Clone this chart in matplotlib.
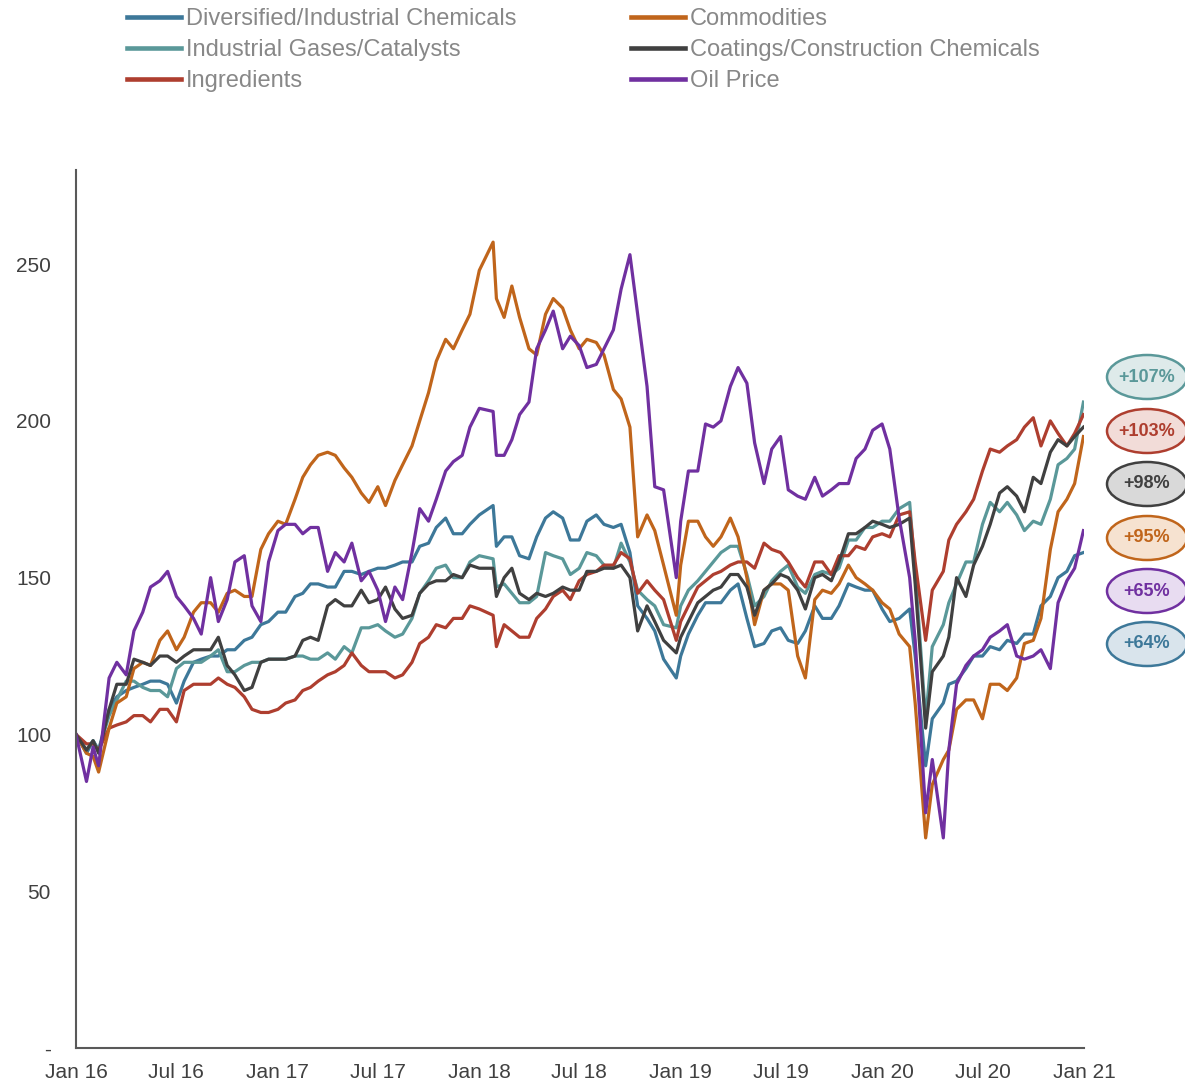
import pandas as pd
import matplotlib
matplotlib.use('Agg')
import matplotlib.pyplot as plt
import matplotlib.dates as mdates
from matplotlib.patches import Ellipse
from matplotlib.ticker import FuncFormatter

plt.rcParams['font.family'] = ['Liberation Sans', 'DejaVu Sans']

# daty: 1. i ok. 15. dzień każdego miesiąca (kilka przesuniętych na ekstrema)
dates = [
    '2016-01-01', '2016-01-20', '2016-02-01', '2016-02-11', '2016-03-01', '2016-03-15', '2016-04-01', '2016-04-15',
    '2016-05-01', '2016-05-15', '2016-06-01', '2016-06-15', '2016-07-01', '2016-07-15', '2016-08-01', '2016-08-15',
    '2016-09-01', '2016-09-15', '2016-10-01', '2016-10-15', '2016-11-01', '2016-11-15', '2016-12-01', '2016-12-15',
    '2017-01-01', '2017-01-15', '2017-02-01', '2017-02-15', '2017-03-01', '2017-03-15', '2017-04-01', '2017-04-15',
    '2017-05-01', '2017-05-15', '2017-06-01', '2017-06-15', '2017-07-01', '2017-07-15', '2017-08-01', '2017-08-15',
    '2017-09-01', '2017-09-15', '2017-10-01', '2017-10-15', '2017-11-01', '2017-11-15', '2017-12-01', '2017-12-15',
    '2018-01-01', '2018-01-26', '2018-02-01', '2018-02-15', '2018-03-01', '2018-03-15', '2018-04-01', '2018-04-15',
    '2018-05-01', '2018-05-15', '2018-06-01', '2018-06-15', '2018-07-01', '2018-07-15', '2018-08-01', '2018-08-15',
    '2018-09-01', '2018-09-15', '2018-10-01', '2018-10-15', '2018-11-01', '2018-11-15', '2018-12-01', '2018-12-24',
    '2019-01-01', '2019-01-15', '2019-02-01', '2019-02-15', '2019-03-01', '2019-03-15', '2019-04-01', '2019-04-15',
    '2019-05-01', '2019-05-15', '2019-06-01', '2019-06-15', '2019-07-01', '2019-07-15', '2019-08-01', '2019-08-15',
    '2019-09-01', '2019-09-15', '2019-10-01', '2019-10-15', '2019-11-01', '2019-11-15', '2019-12-01', '2019-12-15',
    '2020-01-01', '2020-01-15', '2020-02-01', '2020-02-20', '2020-03-01', '2020-03-20', '2020-04-01', '2020-04-21',
    '2020-05-01', '2020-05-15', '2020-06-01', '2020-06-15', '2020-07-01', '2020-07-15', '2020-08-01', '2020-08-15',
    '2020-09-01', '2020-09-15', '2020-10-01', '2020-10-15', '2020-11-01', '2020-11-15', '2020-12-01', '2020-12-15',
    '2020-12-31',
]

diversified = [
    100, 94, 98, 95, 108, 112, 114, 115, 116, 117, 117, 116, 110, 117, 123, 124, 125, 125, 127, 127, 130, 131, 135, 136,
    139, 139, 144, 145, 148, 148, 147, 147, 152, 152, 151, 152, 153, 153, 154, 155, 155, 160, 161, 166, 169, 164, 164, 167,
    170, 173, 160, 163, 163, 157, 156, 163, 169, 171, 169, 162, 162, 168, 170, 167, 166, 167, 158, 141, 137, 133, 124, 118,
    125, 132, 138, 142, 142, 142, 146, 148, 137, 128, 129, 133, 134, 130, 129, 133, 141, 137, 137, 141, 148, 147, 146, 146,
    140, 136, 137, 140, 125, 90, 105, 110, 116, 117, 121, 125, 125, 128, 127, 130, 129, 132, 132, 141, 144, 150, 152, 157,
    158,
]
gases = [
    100, 95, 98, 95, 106, 111, 117, 117, 115, 114, 114, 112, 121, 123, 123, 123, 125, 127, 120, 120, 122, 123, 123, 124,
    124, 124, 125, 125, 124, 124, 126, 124, 128, 126, 134, 134, 135, 133, 131, 132, 137, 145, 149, 153, 154, 150, 150, 155,
    157, 156, 147, 148, 145, 142, 142, 144, 158, 157, 156, 151, 153, 158, 157, 154, 153, 161, 155, 146, 143, 141, 135, 134,
    141, 146, 149, 152, 155, 158, 160, 160, 151, 141, 144, 149, 152, 154, 147, 145, 151, 152, 151, 153, 162, 162, 166, 166,
    168, 168, 172, 174, 152, 105, 128, 135, 142, 148, 155, 155, 167, 174, 171, 174, 170, 165, 168, 167, 175, 186, 188, 191,
    206,
]
ingredients = [
    100, 97, 97, 95, 102, 103, 104, 106, 106, 104, 108, 108, 104, 114, 116, 116, 116, 118, 116, 115, 112, 108, 107, 107,
    108, 110, 111, 114, 115, 117, 119, 120, 122, 126, 122, 120, 120, 120, 118, 119, 123, 129, 131, 135, 134, 137, 137, 141,
    140, 138, 128, 135, 133, 131, 131, 137, 140, 144, 146, 143, 149, 151, 152, 154, 154, 158, 156, 145, 149, 146, 143, 130,
    136, 141, 147, 149, 151, 152, 154, 155, 155, 153, 161, 159, 158, 155, 150, 147, 155, 155, 151, 157, 157, 160, 159, 163,
    164, 163, 170, 171, 155, 130, 146, 152, 162, 167, 171, 175, 184, 191, 190, 192, 194, 198, 201, 192, 200, 196, 192, 196,
    202,
]
commodities = [
    100, 94, 93, 88, 102, 110, 112, 121, 123, 122, 130, 133, 127, 131, 139, 142, 142, 139, 145, 146, 144, 144, 159, 164,
    168, 167, 175, 182, 186, 189, 190, 189, 185, 182, 177, 174, 179, 173, 181, 186, 192, 200, 209, 219, 226, 223, 229, 234,
    248, 257, 239, 233, 243, 233, 223, 221, 234, 239, 236, 229, 223, 226, 225, 221, 210, 207, 198, 163, 170, 165, 154, 138,
    154, 168, 168, 163, 160, 163, 169, 163, 150, 135, 146, 148, 148, 146, 125, 118, 143, 146, 145, 148, 154, 150, 148, 146,
    142, 140, 132, 128, 110, 67, 84, 92, 95, 108, 111, 111, 105, 116, 116, 114, 118, 129, 130, 137, 159, 171, 175, 180,
    195,
]
coatings = [
    100, 95, 98, 94, 108, 116, 116, 124, 123, 122, 125, 125, 123, 125, 127, 127, 127, 131, 122, 119, 114, 115, 123, 124,
    124, 124, 125, 130, 131, 130, 141, 143, 141, 141, 146, 142, 143, 147, 140, 137, 138, 145, 148, 149, 149, 151, 150, 154,
    153, 153, 144, 150, 153, 145, 143, 145, 144, 145, 147, 146, 146, 152, 152, 153, 153, 154, 150, 133, 141, 136, 130, 126,
    131, 136, 142, 144, 146, 147, 151, 151, 147, 138, 146, 148, 151, 150, 146, 140, 150, 151, 149, 155, 164, 164, 166, 168,
    167, 166, 167, 169, 148, 102, 120, 125, 131, 150, 144, 154, 160, 167, 177, 179, 176, 171, 182, 180, 190, 194, 192, 195,
    198,
]
oil = [
    100, 85, 96, 90, 118, 123, 119, 133, 139, 147, 149, 152, 144, 141, 137, 132, 150, 136, 143, 155, 157, 141, 136, 155,
    165, 167, 167, 164, 166, 166, 152, 158, 155, 161, 149, 152, 146, 136, 147, 143, 158, 172, 168, 175, 184, 187, 189, 198,
    204, 203, 189, 189, 194, 202, 206, 223, 229, 235, 223, 227, 224, 217, 218, 223, 229, 242, 253, 234, 211, 179, 178, 150,
    168, 184, 184, 199, 198, 200, 211, 217, 212, 193, 180, 191, 195, 178, 176, 175, 182, 176, 178, 180, 180, 188, 191, 197,
    199, 191, 169, 150, 130, 75, 92, 67, 95, 116, 122, 125, 127, 131, 133, 135, 125, 124, 125, 127, 121, 142, 149, 153,
    165,
]

labels = ['Diversified/Industrial Chemicals', 'Industrial Gases/Catalysts', 'Ingredients',
          'Commodities', 'Coatings/Construction Chemicals', 'Oil Price']
colors = ['#3d7899', '#5a9899', '#ae3e2f', '#c0651b', '#404040', '#7030a0']

# etykiety zmian na końcu okresu (od góry)
badge_text = ['+107%', '+103%', '+98%', '+95%', '+65%', '+64%']
badge_edge = ['#5a9899', '#ae3e2f', '#404040', '#c0651b', '#7030a0', '#3d7899']
badge_fill = ['#deeaea', '#f2dcd8', '#d9d9d9', '#f6e2d0', '#e8dcf1', '#d9e4ec']

df = pd.DataFrame({
    'date': pd.to_datetime(dates),
    labels[0]: diversified,
    labels[1]: gases,
    labels[2]: ingredients,
    labels[3]: commodities,
    labels[4]: coatings,
    labels[5]: oil,
})

W, H = 1185, 1083
fig = plt.figure(figsize=(W / 100, H / 100), dpi=100)
ax = fig.add_axes([76 / W, 1 - 1048 / H, (1084 - 76) / W, (1048 - 170) / H])

for name, col in zip(labels, colors):
    ax.plot(df['date'], df[name], color=col, lw=2.3, label=name, solid_joinstyle='round')

ax.set_xlim(pd.Timestamp('2016-01-01'), pd.Timestamp('2021-01-01'))
ax.set_ylim(0, 280)
ax.set_yticks([0, 50, 100, 150, 200, 250])
ax.yaxis.set_major_formatter(FuncFormatter(lambda v, p: '-' if v == 0 else f'{v:.0f}'))
ax.xaxis.set_major_locator(mdates.MonthLocator(bymonth=[1, 7]))
ax.xaxis.set_major_formatter(mdates.DateFormatter('%b %y'))

ax.tick_params(axis='both', length=0, labelsize=15, colors='#404040')
ax.tick_params(axis='y', pad=18)
ax.tick_params(axis='x', pad=11)
for s in ['top', 'right']:
    ax.spines[s].set_visible(False)
for s in ['left', 'bottom']:
    ax.spines[s].set_color('#595959')
    ax.spines[s].set_linewidth(1.5)

leg = fig.legend(loc='upper left', bbox_to_anchor=(127 / W, 1 - 8 / H), ncol=2, frameon=False,
                 fontsize=17, handlelength=2.3, handletextpad=0.2, labelspacing=0.39,
                 columnspacing=4.83, borderpad=0, borderaxespad=0)
for t in leg.get_texts():
    t.set_color('#888888')
for h in leg.get_lines():
    h.set_linewidth(3.3)

# owalne etykiety po prawej
ys = [377, 431, 484, 538, 591, 644]
for txt, ec, fc, y in zip(badge_text, badge_edge, badge_fill, ys):
    e = Ellipse((1147 / W, 1 - y / H), 80 / W, 44 / H, transform=fig.transFigure,
                facecolor=fc, edgecolor=ec, lw=1.8)
    fig.add_artist(e)
    fig.text(1147 / W, 1 - y / H, txt, ha='center', va='center', fontsize=13,
             fontweight='bold', color=ec)

fig.savefig('out.png', dpi=100)
